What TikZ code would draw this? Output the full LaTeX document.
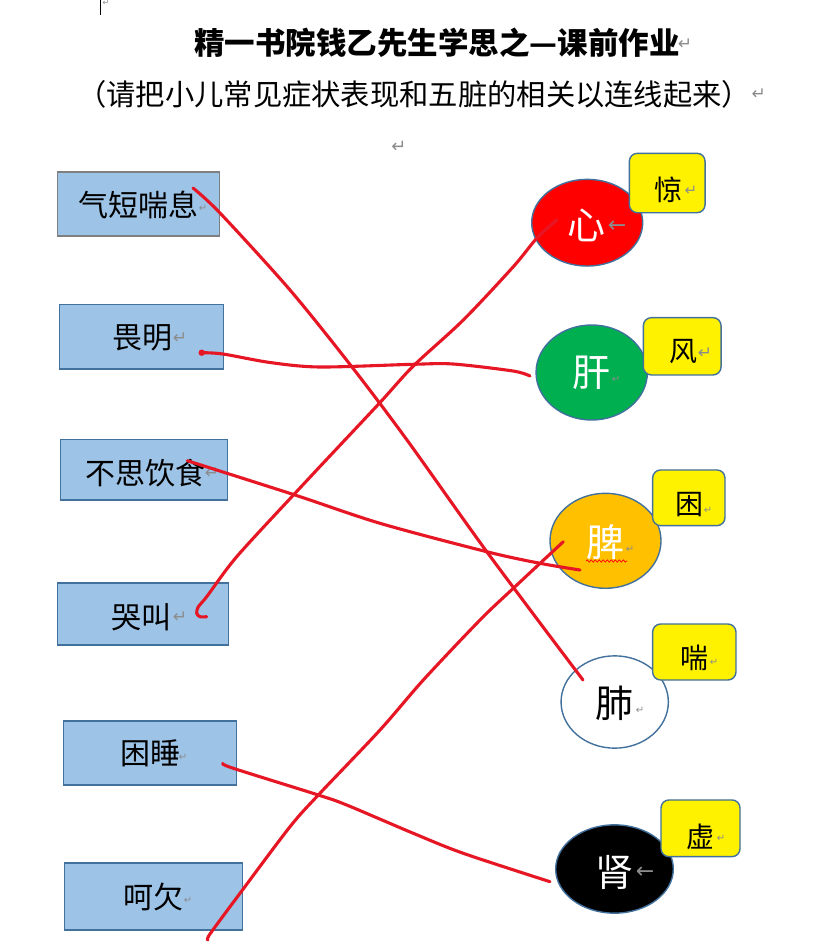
\documentclass[tikz,border=0pt]{standalone}
\usepackage{fontspec}
\newfontfamily\cjk{Noto Sans CJK SC}
\newfontfamily\symf{DejaVu Sans}
\usetikzlibrary{shapes.geometric,calc,decorations.pathmorphing}
\definecolor{boxfill}{HTML}{9DC3E6}
\definecolor{boxline}{HTML}{41719C}
\definecolor{greyline}{HTML}{7F7F7F}
\definecolor{ink}{RGB}{230,22,36}
\definecolor{markgray}{HTML}{8C8C8C}
\definecolor{organgreen}{HTML}{00B050}
\definecolor{organorange}{HTML}{FFC000}
\newcommand\fsz[1]{\fontsize{#1}{#1}\selectfont}
\begin{document}
\begin{tikzpicture}[x=1pt,y=-1pt,
  symbox/.style={draw=boxline, line width=1.5pt, fill=boxfill, inner sep=0pt},
  organ/.style={ellipse, draw=boxline, line width=1.4pt, inner sep=0pt},
  tag/.style={draw=boxline, line width=1.4pt, fill=yellow, rounded corners=8pt, inner sep=0pt},
  symtxt/.style={anchor=west, inner sep=0pt, font=\cjk\fsz{30}},
  orgtxt/.style={inner sep=0pt, font=\cjk\fsz{38}},
  tagtxt/.style={inner sep=0pt, font=\cjk\fsz{28}},
  ret/.style={inner sep=0pt, text=markgray, font=\symf\fsz{#1}},
  ret/.default=14,
  redline/.style={draw=ink, line width=3.1pt, line cap=round, line join=round},
]
\useasboundingbox (0,0) rectangle (819,942);
\fill[white] (0,0) rectangle (819,942);

% cursor mark
\draw[black, line width=1pt] (100.5,0) -- (100.5,15.5);
\node[ret=8] (cur) at (106,3) {↵};

% title
\node[inner sep=0pt, font=\cjk\bfseries\fsz{30.5}] (title) at (437,43) {精一书院钱乙先生学思之—课前作业};
\node[ret=17] (rt) at (685,44) {↵};
\node[anchor=west, inner sep=0pt, font=\cjk\fsz{29.3}] (sub) at (77,94) {（请把小儿常见症状表现和五脏的相关以连线起来）};
\node[ret=17, anchor=west] (rs) at (sub.east) {↵};
\node[ret=18] (rb) at (399,147) {↵};

% left symptom boxes
\node[symbox, draw=greyline, minimum width=162pt, minimum height=64.3pt] (s1) at (138.3,203.9) {};
\node[symbox, minimum width=164pt, minimum height=64.7pt] (s2) at (141.3,336.7) {};
\node[symbox, minimum width=167.4pt, minimum height=60.7pt] (s3) at (144,469.7) {};
\node[symbox, minimum width=171pt, minimum height=62.3pt] (s4) at (142.8,613.9) {};
\node[symbox, minimum width=173.4pt, minimum height=64.3pt] (s5) at (150,752.9) {};
\node[symbox, minimum width=178.4pt, minimum height=67.3pt] (s6) at (153.5,896.4) {};

\node[symtxt] (t1) at (78,205) {气短喘息};
\node[ret=10] (r1) at (203,208) {↵};
\node[symtxt] (t2) at (112.5,338) {畏明};
\node[ret=17] (r2) at (180,338) {↵};
\node[symtxt] (t3) at (85,473) {不思饮食};
\node[ret=17] (r3) at (212,473) {↵};
\node[symtxt] (t4) at (111.5,617) {哭叫};
\node[ret=17] (r4) at (180,617) {↵};
\node[symtxt] (t5) at (120,753) {困睡};
\node[ret=10] (r5) at (183,757) {↵};
\node[symtxt] (t6) at (123.5,897) {呵欠};
\node[ret=10] (r6) at (188,900) {↵};

% organ ellipses
\node[organ, fill=red, minimum width=111pt, minimum height=86.7pt] (o1) at (587.2,222.7) {};
\node[organ, fill=organgreen, minimum width=111.3pt, minimum height=95pt] (o2) at (591.7,372.5) {};
\node[organ, fill=organorange, minimum width=111pt, minimum height=95pt] (o3) at (605.5,540.8) {};
\node[organ, fill=white, minimum width=107.3pt, minimum height=92.3pt] (o4) at (614.7,702) {};
\node[organ, fill=black, minimum width=117.6pt, minimum height=88.3pt] (o5) at (614.5,869) {};

\node[orgtxt, text=white] (p1) at (586,225) {心};
\node[ret=22] (q1) at (617,227) {←};
\node[orgtxt, text=white] (p2) at (591,373) {肝};
\node[ret=10] (q2) at (616,379) {↵};
\node[orgtxt, text=white] (p3) at (605.7,541.7) {脾};
\node[ret=10] (q3) at (630,549) {↵};
\node[orgtxt, text=black] (p4) at (614,703) {肺};
\node[ret=10] (q4) at (640,710) {↵};
\node[orgtxt, text=white] (p5) at (614,872) {肾};
\node[ret=22] (q5) at (645,873) {←};
\draw[red, line width=0.7pt, decorate, decoration={snake, amplitude=1.2pt, segment length=4pt}] (586,561) -- (627,561);

% yellow tags
\node[tag, minimum width=75.7pt, minimum height=59.4pt] (y1) at (667.2,183) {};
\node[tag, minimum width=77.7pt, minimum height=57.3pt] (y2) at (682.2,346.3) {};
\node[tag, minimum width=72.3pt, minimum height=55.7pt] (y3) at (688.8,497.8) {};
\node[tag, minimum width=83.3pt, minimum height=56pt] (y4) at (694.3,652) {};
\node[tag, minimum width=79pt, minimum height=56.7pt] (y5) at (700.5,828.3) {};

\node[tagtxt] (u1) at (668,190) {惊};
\node[ret=15] (v1) at (691,191) {↵};
\node[tagtxt] (u2) at (683,352) {风};
\node[ret=17] (v2) at (705,353) {↵};
\node[tagtxt] (u3) at (689,505) {困};
\node[ret=10] (v3) at (708,510) {↵};
\node[tagtxt] (u4) at (694,658) {喘};
\node[ret=10] (v4) at (714,662) {↵};
\node[tagtxt] (u5) at (700,837) {虚};
\node[ret=10] (v5) at (721,838) {↵};

% hand-drawn connectors
\coordinate (A0) at ($(s1.center)+(54.7,-15.9)$);
\coordinate (A1) at ($(o4.center)+(-31.7,-22)$);
\draw[redline] plot[smooth, tension=0.5] coordinates {(A0) (220,213) (290,290) (352,367) (407,440) (487,552) (A1)};

\coordinate (B0) at ($(s2.center)+(60.4,16)$);
\coordinate (B1) at ($(o2.center)+(-61.7,3.5)$);
\draw[redline] plot[smooth, tension=0.5] coordinates {(B0) (223,354) (270,362.5) (320,367) (413,364.3) (453,364) (513,371) (B1)};
\fill[ink] (B0) circle (3.2pt);

\coordinate (C0) at ($(o1.center)+(-30.5,-2.7)$);
\coordinate (C1) at ($(s4.center)+(63.9,2.8)$);
\draw[redline] plot[smooth, tension=0.5] coordinates {(C0) (536.7,238.3) (513.3,266.7) (463.3,320) (413.3,366) (379.3,403.3) (318.3,468.3) (295,493.3) (236.7,556.7) (206.7,596.7) (198.3,606.7) (196.7,613.3) (200,616.7) (C1)};

\coordinate (D0) at ($(s3.center)+(43.3,-9)$);
\coordinate (D1) at ($(o3.center)+(-25.5,29.2)$);
\draw[redline] plot[smooth, tension=0.5] coordinates {(D0) (295,495) (380,523.3) (486.7,551.7) (540,563.3) (D1)};

\coordinate (E0) at ($(o3.center)+(-42.2,0.9)$);
\coordinate (E1) at ($(s6.center)+(54.5,43.6)$);
\draw[redline] plot[smooth, tension=0.5] coordinates {(E0) (513.3,588.3) (480,620) (423.3,680) (380,730) (318.3,795) (290,826.7) (240,893.3) (210,934) (E1)};

\coordinate (F0) at ($(s5.center)+(72.7,10.4)$);
\coordinate (F1) at ($(o5.center)+(-64.5,12.7)$);
\draw[redline] plot[smooth, tension=0.5] coordinates {(F0) (233.3,768.3) (318.3,795) (346.7,805) (413.3,833.3) (463.3,853.3) (F1)};
\end{tikzpicture}
\end{document}
